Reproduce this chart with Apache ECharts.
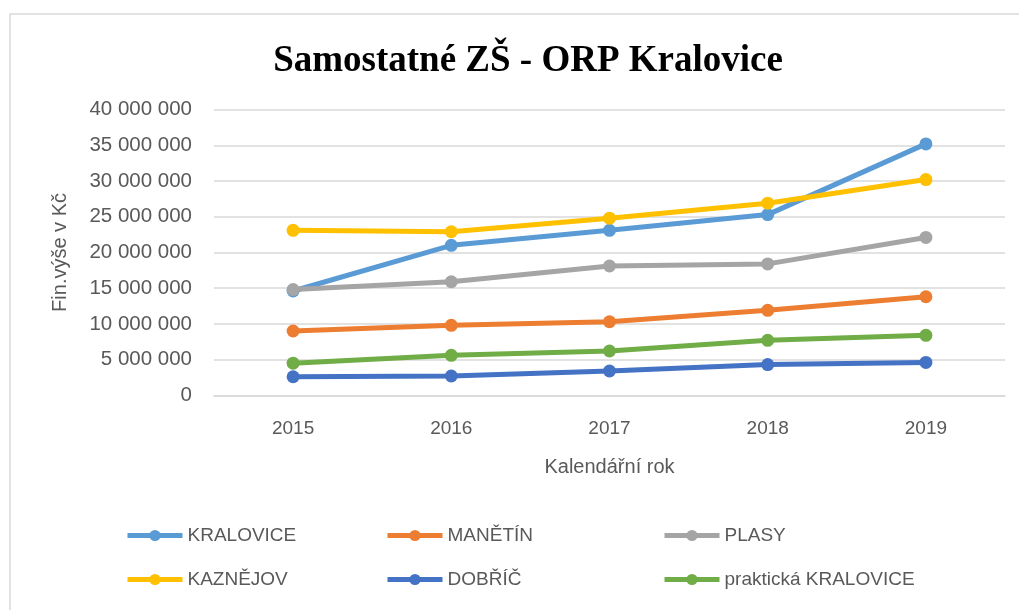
<!DOCTYPE html>
<html>
<head>
<meta charset="utf-8">
<script src="https://cdn.jsdelivr.net/npm/echarts@6/dist/echarts.min.js"></script>
<style>
html,body{margin:0;padding:0;background:#fff;}
#c{width:1019px;height:610px;}
</style>
</head>
<body>
<div id="c"></div>
<script>
const years = ['2015', '2016', '2017', '2018', '2019'];
const kralovice = [14600000, 21000000, 23100000, 25300000, 35200000];
const manetin = [9000000, 9800000, 10300000, 11900000, 13800000];
const plasy = [14800000, 15900000, 18100000, 18400000, 22100000];
const kaznejov = [23100000, 22900000, 24800000, 26900000, 30200000];
const dobric = [2600000, 2700000, 3400000, 4300000, 4600000];
const prakticka = [4500000, 5600000, 6200000, 7700000, 8400000];
const seriesNames = ['KRALOVICE', 'MANĚTÍN', 'PLASY', 'KAZNĚJOV', 'DOBŘÍČ', 'praktická KRALOVICE'];
const seriesData = [kralovice, manetin, plasy, kaznejov, dobric, prakticka];
const colors = ['#5B9BD5', '#ED7D31', '#A5A5A5', '#FFC000', '#4472C4', '#70AD47'];

const chart = echarts.init(document.getElementById('c'));
const font = "'Liberation Sans', Arial, sans-serif";
const txt = '#595959';

function fmt(v) {
  if (v === 0) return '0';
  return String(v).replace(/\B(?=(\d{3})+(?!\d))/g, ' ');
}

const legendPos = [
  [125, 536], [385, 536], [662, 536],
  [125, 580], [385, 580], [662, 580]
];

const legends = seriesNames.map((n, i) => ({
  data: [n],
  left: legendPos[i][0],
  top: legendPos[i][1] - 10,
  padding: 0,
  itemWidth: 55,
  itemHeight: 14,
  itemGap: 4,
  lineStyle: { width: 5 },
  textStyle: { color: txt, fontSize: 19, fontFamily: font },
  selectedMode: false
}));

chart.setOption({
  animation: false,
  backgroundColor: '#fff',
  color: colors,
  title: {
    text: 'Samostatné ZŠ - ORP Kralovice',
    left: 523,
    textAlign: 'center',
    top: 38,
    textStyle: { fontFamily: "'Liberation Serif', 'Times New Roman', serif", fontWeight: 'bold', fontSize: 37, color: '#000' }
  },
  graphic: [{
    type: 'rect',
    shape: { x: 10, y: 14, width: 1030, height: 620 },
    style: { fill: 'none', stroke: '#d9d9d9', lineWidth: 1.5 },
    silent: true,
    z: -1
  }],
  legend: legends,
  grid: { left: 214, right: 14, top: 109.6, height: 285.7, containLabel: false },
  xAxis: {
    type: 'category',
    data: years,
    boundaryGap: true,
    name: 'Kalendářní rok',
    nameLocation: 'middle',
    nameGap: 62,
    nameTextStyle: { color: txt, fontSize: 20, fontFamily: font },
    axisLine: { show: true, lineStyle: { color: '#d9d9d9', width: 1.5 } },
    axisTick: { show: false },
    axisLabel: { color: txt, fontSize: 19, fontFamily: font, margin: 24 }
  },
  yAxis: {
    type: 'value',
    min: 0,
    max: 40000000,
    interval: 5000000,
    name: 'Fin.výše v Kč',
    nameLocation: 'middle',
    nameGap: 144,
    nameRotate: 90,
    nameTextStyle: { color: txt, fontSize: 20, fontFamily: font },
    axisLine: { show: false },
    axisTick: { show: false },
    axisLabel: { color: txt, fontSize: 20.5, fontFamily: font, margin: 22, formatter: fmt },
    splitLine: { lineStyle: { color: '#d9d9d9', width: 1.5 } }
  },
  series: seriesNames.map((n, i) => ({
    name: n,
    type: 'line',
    data: seriesData[i],
    symbol: 'circle',
    symbolSize: 13,
    lineStyle: { width: 5, color: colors[i] },
    itemStyle: { color: colors[i] }
  }))
});
</script>
</body>
</html>
